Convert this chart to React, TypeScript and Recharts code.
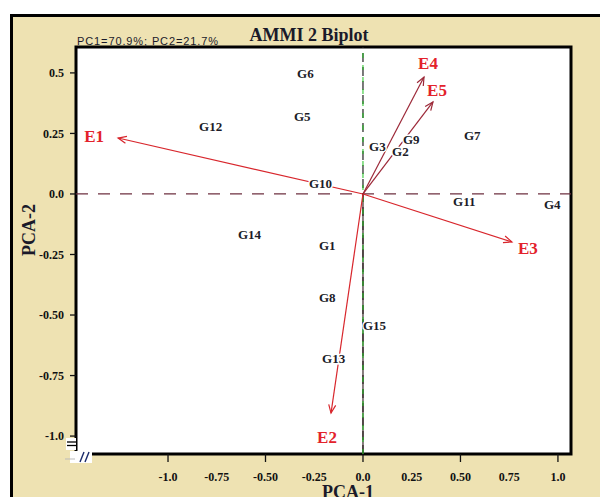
import {
  ReferenceArea,
  ReferenceLine,
  Scatter,
  ScatterChart,
  XAxis,
  YAxis,
} from 'recharts'

// genotype scores (PC1, PC2)
const genotypes = ['G1', 'G2', 'G3', 'G4', 'G5', 'G6', 'G7', 'G8', 'G9', 'G10', 'G11', 'G12', 'G13', 'G14', 'G15']
const genoPc1 = [-0.226, 0.149, 0.031, 0.928, -0.354, -0.338, 0.518, -0.226, 0.205, -0.277, 0.462, -0.841, -0.21, -0.641, 0.0]
const genoPc2 = [-0.211, 0.174, 0.194, -0.045, 0.322, 0.496, 0.24, -0.426, 0.223, 0.045, -0.033, 0.277, -0.678, -0.169, -0.545]

// environment vectors
const envs = ['E1', 'E2', 'E3', 'E4', 'E5']
const envPc1 = [-1.256, -0.164, 0.764, 0.313, 0.359]
const envPc2 = [0.231, -0.905, -0.198, 0.483, 0.38]
const envColors = ['#d8262c', '#d8262c', '#d8262c', '#9c2838', '#9c2838']
// label nudge from arrow tip, px
const envLabelNudge: [number, number][] = [[-24, -2], [-4, 24], [16, 7], [4, -14], [4, -11]]

const xTicks = [-1, -0.75, -0.5, -0.25, 0, 0.25, 0.5, 0.75, 1]
const xTickLabels = ['-1.0', '-0.75', '-0.50', '-0.25', '0.0', '0.25', '0.50', '0.75', '1.0']
const yTicks = [0.5, 0.25, 0, -0.25, -0.5, -0.75, -1]
const yTickLabels = ['0.5', '0.25', '0.0', '-0.25', '-0.50', '-0.75', '-1.0']

const X_DOMAIN: [number, number] = [-1.472, 1.067]
const Y_DOMAIN: [number, number] = [-1.074, 0.607]

const serif = '"Liberation Serif", "Times New Roman", serif'
const tan = '#eee2b2'

const genoData = genotypes.map((name, i) => ({ name, x: genoPc1[i], y: genoPc2[i] }))

const GenoLabel = (props: any) => {
  const { cx, cy, payload } = props
  return (
    <text
      x={cx}
      y={cy}
      dominantBaseline="central"
      fontFamily={serif}
      fontWeight="bold"
      fontSize={13}
      fill="#1c1c28"
      stroke="#fff"
      strokeWidth={3}
      paintOrder="stroke"
    >
      {payload.name}
    </text>
  )
}

const vectorLine = (i: number) => (props: any) => {
  const pts = props.points
  if (!pts || pts.length < 2) return <g />
  const color = envColors[i]
  const [o, t] = pts
  const dx = t.x - o.x
  const dy = t.y - o.y
  const len = Math.sqrt(dx * dx + dy * dy)
  const ux = dx / len
  const uy = dy / len
  const head = 9
  const ang = 0.4
  const rot = (a: number) => ({
    x: t.x - head * (ux * Math.cos(a) - uy * Math.sin(a)),
    y: t.y - head * (ux * Math.sin(a) + uy * Math.cos(a)),
  })
  const h1 = rot(ang)
  const h2 = rot(-ang)
  const [nx, ny] = envLabelNudge[i]
  return (
    <g>
      <line x1={o.x} y1={o.y} x2={t.x} y2={t.y} stroke={color} strokeWidth={1.2} />
      <path d={`M${h1.x},${h1.y}L${t.x},${t.y}L${h2.x},${h2.y}`} fill="none" stroke={color} strokeWidth={1.2} />
      <text
        x={t.x + nx}
        y={t.y + ny}
        textAnchor="middle"
        dominantBaseline="central"
        fontFamily={serif}
        fontWeight="bold"
        fontSize={17}
        fill="#e3222b"
      >
        {envs[i]}
      </text>
    </g>
  )
}

const XTick = (props: any) => {
  const { x, y, payload } = props
  const idx = xTicks.indexOf(payload.value)
  const major = Math.abs(payload.value * 2 - Math.round(payload.value * 2)) < 1e-6
  return (
    <g>
      {major && <line x1={x} y1={y - 8} x2={x} y2={y} stroke="#111" strokeWidth={1.3} />}
      <text x={x} y={y + 19} textAnchor="middle" fontFamily={serif} fontWeight="bold" fontSize={12} fill="#111">
        {xTickLabels[idx]}
      </text>
    </g>
  )
}

export default function App() {
  return (
    <div style={{ position: 'relative', width: 600, height: 489, overflow: 'hidden' }}>
      <div
        style={{
          position: 'absolute',
          left: 2,
          top: 6,
          width: 620,
          height: 520,
          border: '3px solid #000',
          background: tan,
        }}
      />
      <div style={{ position: 'absolute', left: -8, top: -8 }}>
        <ScatterChart width={608} height={497} margin={{ top: 47, right: 37, left: 0, bottom: 0 }}>
          <XAxis
            type="number"
            dataKey="x"
            domain={X_DOMAIN}
            allowDataOverflow
            ticks={xTicks}
            interval={0}
            height={43}
            axisLine={false}
            tickLine={false}
            tickSize={8}
            tickMargin={0}
            tick={<XTick />}
          />
          <YAxis
            type="number"
            dataKey="y"
            domain={Y_DOMAIN}
            allowDataOverflow
            ticks={yTicks}
            interval={0}
            width={76}
            axisLine={false}
            tickSize={6}
            tickMargin={6}
            tickLine={{ stroke: '#111', strokeWidth: 1.3 }}
            tickFormatter={(v: number) => yTickLabels[yTicks.indexOf(v)]}
            tick={{ fill: '#111', fontSize: 12, fontWeight: 'bold', fontFamily: serif }}
          />
          <ReferenceArea
            x1={X_DOMAIN[0]}
            x2={X_DOMAIN[1]}
            y1={Y_DOMAIN[0]}
            y2={Y_DOMAIN[1]}
            fill="#fff"
            fillOpacity={1}
            stroke="none"
          />
          <ReferenceLine y={0} stroke="#6e3040" strokeWidth={1.3} strokeDasharray="12 10" />
          <ReferenceLine x={0} stroke="#222" strokeWidth={1.2} strokeDasharray="9 5" />
          <ReferenceLine
            segment={[
              { x: 0, y: 0 },
              { x: 0, y: Y_DOMAIN[0] },
            ]}
            stroke="#3a2a2a"
            strokeWidth={1.2}
          />
          <ReferenceLine x={0} stroke="#22c322" strokeWidth={1} strokeDasharray="5 7" />
          {envs.map((name, i) => (
            <Scatter
              key={name}
              data={[
                { x: 0, y: 0 },
                { x: envPc1[i], y: envPc2[i] },
              ]}
              shape={() => <g />}
              line={vectorLine(i)}
              lineType="joint"
              isAnimationActive={false}
            />
          ))}
          <Scatter data={genoData} shape={<GenoLabel />} isAnimationActive={false} />
          <ReferenceArea
            x1={X_DOMAIN[0]}
            x2={X_DOMAIN[1]}
            y1={Y_DOMAIN[0]}
            y2={Y_DOMAIN[1]}
            fill="none"
            stroke="#000"
            strokeWidth={3}
          />
        </ScatterChart>
        <svg width={608} height={497} style={{ position: 'absolute', left: 0, top: 0, pointerEvents: 'none' }}>
          <text x={309} y={41} textAnchor="middle" fontFamily={serif} fontWeight="bold" fontSize={18} fill="#1a1a2a">
            AMMI 2 Biplot
          </text>
          <text x={77} y={45} fontFamily='"Liberation Sans", Arial, sans-serif' fontSize={11} textLength={141} fill="#1a1a2a">
            PC1=70.9%; PC2=21.7%
          </text>
          <text x={348} y={498} textAnchor="middle" fontFamily={serif} fontWeight="bold" fontSize={18} fill="#1a1a2a">
            PCA-1
          </text>
          <text
            x={35}
            y={230}
            transform="rotate(-90 35 230)"
            textAnchor="middle"
            fontFamily={serif}
            fontWeight="bold"
            fontSize={18}
            fill="#1a1a2a"
          >
            PCA-2
          </text>
          <rect x={66} y={438} width={10} height={12} fill="#fff" />
          <line x1={67} y1={442} x2={76} y2={442} stroke="#000" strokeWidth={1.3} />
          <line x1={67} y1={445.5} x2={76} y2={445.5} stroke="#000" strokeWidth={1.3} />
          <rect x={70} y={451} width={22} height={12} fill="#fff" />
          <line x1={65} y1={459} x2={75} y2={459} stroke="#bbb" strokeWidth={1} />
          <line x1={80} y1={462} x2={84} y2={452} stroke="#1a2a6a" strokeWidth={1.4} />
          <line x1={85} y1={462} x2={89} y2={452} stroke="#1a2a6a" strokeWidth={1.4} />
        </svg>
      </div>
    </div>
  )
}
